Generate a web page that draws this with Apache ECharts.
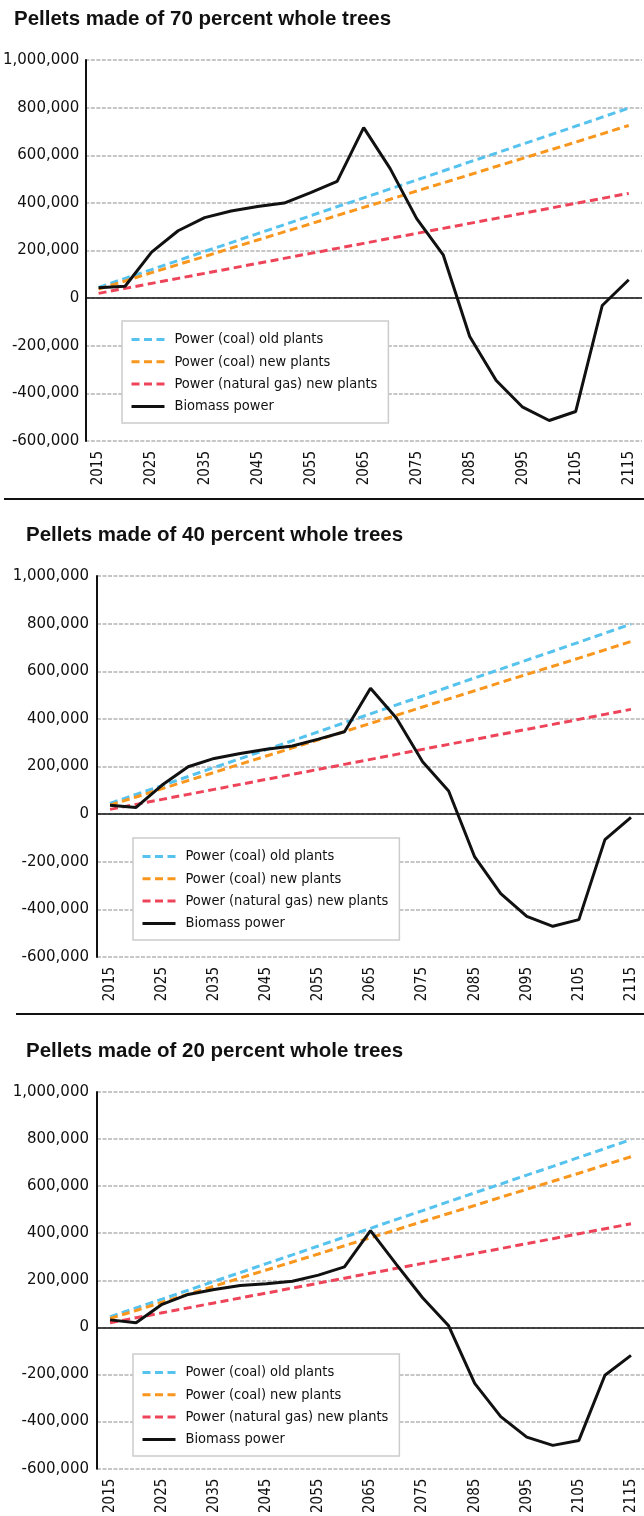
<!DOCTYPE html>
<html>
<head>
<meta charset="utf-8">
<script src="https://cdn.jsdelivr.net/npm/echarts@6/dist/echarts.min.js"></script>
<style>
  html, body { margin: 0; padding: 0; background: #fff; }
  #chart { width: 644px; height: 1516px; }
</style>
</head>
<body>
<div id="chart"></div>
<script>
// years, one point every 5 years
const years = ['2015','2020','2025','2030','2035','2040','2045','2050','2055','2060','2065',
  '2070','2075','2080','2085','2090','2095','2100','2105','2110','2115'];

// fossil reference lines (same in all three panels)
const coalOld = [45000, 83000, 120000, 158000, 196000, 233000, 271000, 308000, 346000, 384000, 421000,
  459000, 496000, 534000, 572000, 609000, 647000, 684000, 722000, 760000, 798000];
const coalNew = [38000, 72000, 107000, 141000, 175000, 210000, 244000, 278000, 312000, 347000, 381000,
  415000, 450000, 484000, 518000, 553000, 587000, 621000, 655000, 690000, 725000];
const gasNew = [20000, 41000, 62000, 83000, 104000, 125000, 146000, 167000, 188000, 209000, 230000,
  251000, 272000, 293000, 314000, 335000, 356000, 377000, 398000, 419000, 440000];

// biomass power for each share of whole trees
const biomass70 = [44000, 50000, 193000, 283000, 338000, 366000, 385000, 399000, 443000, 490000, 716000,
  544000, 334000, 182000, -161000, -346000, -458000, -514000, -476000, -31000, 77000];
const biomass40 = [37000, 28000, 122000, 199000, 234000, 255000, 272000, 286000, 315000, 346000, 529000,
  403000, 220000, 97000, -180000, -334000, -429000, -471000, -443000, -107000, -14000];
const biomass20 = [32000, 20000, 98000, 140000, 161000, 178000, 185000, 196000, 222000, 257000, 411000,
  267000, 126000, 7000, -238000, -379000, -466000, -501000, -480000, -203000, -119000];

const titles = ['Pellets made of 70 percent whole trees',
  'Pellets made of 40 percent whole trees',
  'Pellets made of 20 percent whole trees'];
const names = ['Power (coal) old plants', 'Power (coal) new plants',
  'Power (natural gas) new plants', 'Biomass power'];

const condensed = '"Liberation Sans Narrow", "DejaVu Sans Condensed", "Roboto", sans-serif';

// layout of the three panels
const panels = [
  { bio: biomass70, left: 85, top: 60, width: 557, height: 381, titleX: 14, titleY: 7,
    legX: 122, legY: 321, labelMargin: 6 },
  { bio: biomass40, left: 97, top: 576, width: 559, height: 381, titleX: 26, titleY: 523,
    legX: 133, legY: 838, labelMargin: 8 },
  { bio: biomass20, left: 97, top: 1092, width: 559, height: 382, titleX: 26, titleY: 1039,
    legX: 133, legY: 1354, labelMargin: 8 }
];

const colors = ['#56c2ee', '#f8961e', '#ee4459', '#111111'];

const option = { animation: false, title: [], grid: [], xAxis: [], yAxis: [], legend: [], series: [] };

panels.forEach((p, i) => {
  option.title.push({
    text: titles[i], left: p.titleX, top: p.titleY, padding: 0,
    textStyle: { fontFamily: '"Liberation Sans", Arial, sans-serif', fontWeight: 'bold',
      fontSize: 20.5, lineHeight: 24, color: '#111' }
  });
  option.grid.push({ left: p.left, top: p.top, width: p.width, height: p.height, containLabel: false });
  option.xAxis.push({
    type: 'category', gridIndex: i, data: years, boundaryGap: true,
    axisLine: { show: false, onZero: false }, axisTick: { show: false },
    axisLabel: { interval: 1, rotate: 90, margin: 10, color: '#111',
      fontFamily: condensed, fontSize: 15 },
    splitLine: { show: false }
  });
  option.yAxis.push({
    type: 'value', gridIndex: i, min: -600000, max: 1000000, interval: 200000,
    axisLine: { show: true, lineStyle: { color: '#111', width: 2 } },
    axisTick: { show: false },
    axisLabel: { margin: p.labelMargin, color: '#111', fontFamily: '"DejaVu Sans", sans-serif',
      fontSize: 15, padding: [0, 0, 11, 0],
      formatter: v => v.toLocaleString('en-US') },
    splitLine: { show: true, lineStyle: { color: '#b4b4b4', width: 1.5, type: [4, 1.5] } }
  });
  option.legend.push({
    orient: 'vertical', left: p.legX, top: p.legY, data: names,
    backgroundColor: '#fff', borderColor: '#cccccc', borderWidth: 1.5, borderRadius: 0,
    padding: [11, 11, 9, 8], itemWidth: 33, itemHeight: 14, itemGap: 7.3,
    itemStyle: { opacity: 0 },
    lineStyle: { width: 3 },
    textStyle: { fontFamily: condensed, fontSize: 14.5, color: '#111', padding: [0, 0, 0, 5] },
    selectedMode: false
  });
  const fossil = [coalOld, coalNew, gasNew];
  fossil.forEach((d, k) => {
    option.series.push({
      type: 'line', name: names[k], xAxisIndex: i, yAxisIndex: i, data: d,
      symbol: 'none', color: colors[k], z: 3,
      lineStyle: { color: colors[k], width: 3, type: [8, 4.5] }
    });
  });
  option.series.push({
    type: 'line', name: names[3], xAxisIndex: i, yAxisIndex: i, data: p.bio,
    symbol: 'none', color: colors[3], z: 4,
    lineStyle: { color: colors[3], width: 3 },
    markLine: {
      silent: true, symbol: 'none', label: { show: false },
      lineStyle: { color: '#111', width: 1.5, type: 'solid' },
      data: [{ yAxis: 0 }]
    }
  });
});

// separators between panels
option.graphic = [
  { type: 'line', shape: { x1: 4, y1: 499, x2: 644, y2: 499 }, style: { stroke: '#111', lineWidth: 2 } },
  { type: 'line', shape: { x1: 16, y1: 1014, x2: 644, y2: 1014 }, style: { stroke: '#111', lineWidth: 2 } }
];

const chart = echarts.init(document.getElementById('chart'), null, { renderer: 'canvas' });
chart.setOption(option);
</script>
</body>
</html>
